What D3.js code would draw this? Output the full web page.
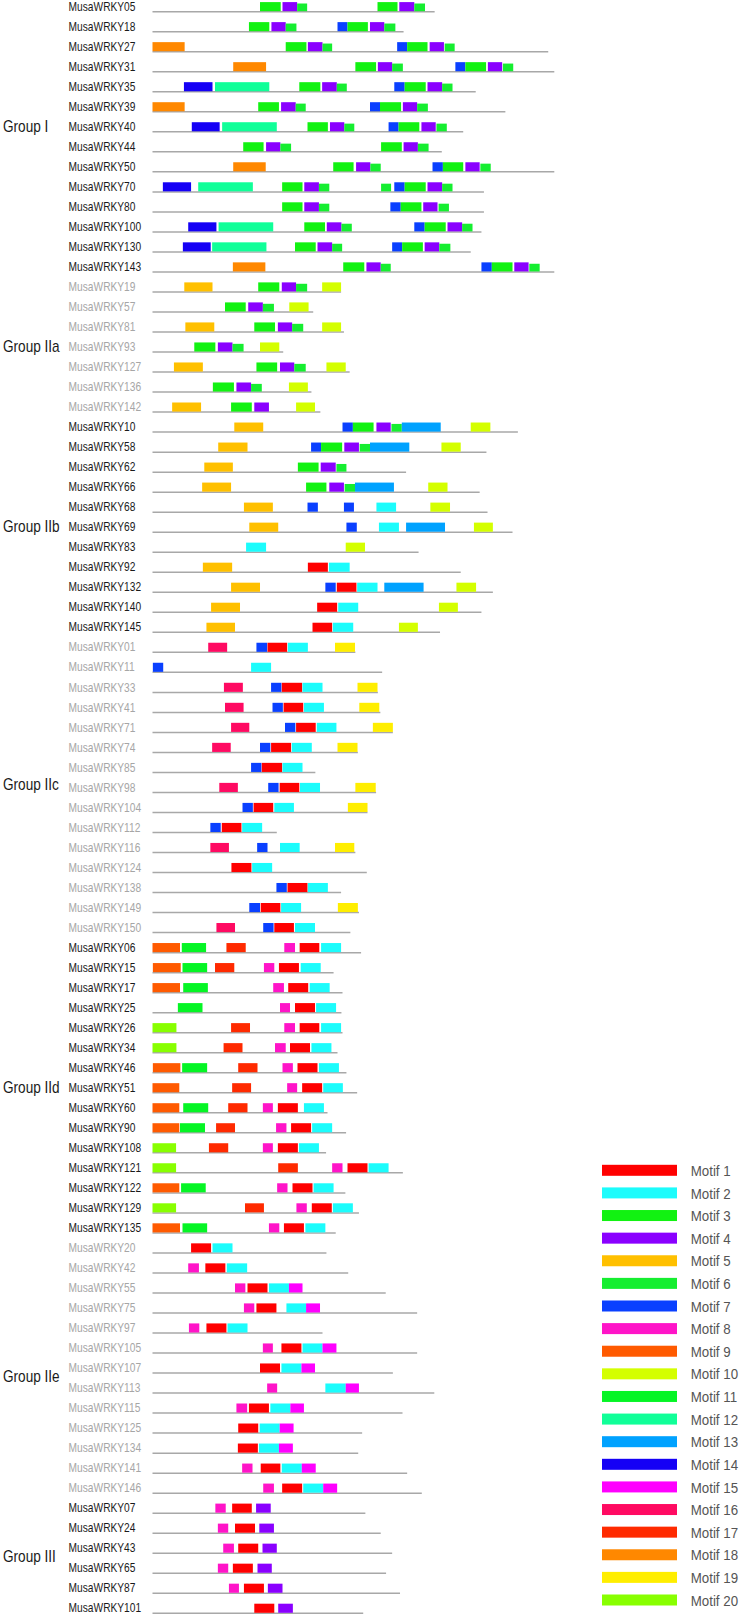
<!DOCTYPE html>
<html><head><meta charset="utf-8">
<script src="https://cdn.jsdelivr.net/npm/d3@7"></script>
<style>html,body{margin:0;padding:0;background:#fff;}svg{display:block;}</style>
</head><body>
<script>
// ---------- DATA ----------
const groupNames = ["Group I","Group IIa","Group IIb","Group IIc","Group IId","Group IIe","Group III"];
const groupSizes = [14,7,11,15,15,13,6];
const geneNames = [
"MusaWRKY05","MusaWRKY18","MusaWRKY27","MusaWRKY31","MusaWRKY35","MusaWRKY39","MusaWRKY40","MusaWRKY44","MusaWRKY50","MusaWRKY70","MusaWRKY80","MusaWRKY100","MusaWRKY130","MusaWRKY143",
"MusaWRKY19","MusaWRKY57","MusaWRKY81","MusaWRKY93","MusaWRKY127","MusaWRKY136","MusaWRKY142",
"MusaWRKY10","MusaWRKY58","MusaWRKY62","MusaWRKY66","MusaWRKY68","MusaWRKY69","MusaWRKY83","MusaWRKY92","MusaWRKY132","MusaWRKY140","MusaWRKY145",
"MusaWRKY01","MusaWRKY11","MusaWRKY33","MusaWRKY41","MusaWRKY71","MusaWRKY74","MusaWRKY85","MusaWRKY98","MusaWRKY104","MusaWRKY112","MusaWRKY116","MusaWRKY124","MusaWRKY138","MusaWRKY149","MusaWRKY150",
"MusaWRKY06","MusaWRKY15","MusaWRKY17","MusaWRKY25","MusaWRKY26","MusaWRKY34","MusaWRKY46","MusaWRKY51","MusaWRKY60","MusaWRKY90","MusaWRKY108","MusaWRKY121","MusaWRKY122","MusaWRKY129","MusaWRKY135",
"MusaWRKY20","MusaWRKY42","MusaWRKY55","MusaWRKY75","MusaWRKY97","MusaWRKY105","MusaWRKY107","MusaWRKY113","MusaWRKY115","MusaWRKY125","MusaWRKY134","MusaWRKY141","MusaWRKY146",
"MusaWRKY07","MusaWRKY24","MusaWRKY43","MusaWRKY65","MusaWRKY87","MusaWRKY101"];
const proteinLengths = [
790,703,1108,1125,905,988,870,810,1125,928,928,921,891,1125,
528,450,536,366,552,445,470,
1023,935,710,916,938,1008,745,863,953,921,805,
568,643,631,638,673,575,456,626,602,348,568,600,528,578,554,
584,507,532,529,532,518,543,573,490,542,486,701,540,578,513,
487,548,653,741,476,741,673,789,700,587,576,713,754,
596,639,671,654,693,590];
// [motif, start, end]
const motifSites = [
[[3,301,359],[4,364,405],[6,405,433],[3,630,686],[4,691,733],[6,733,763]],
[[3,270,327],[4,333,373],[6,373,403],[7,518,546],[3,546,603],[4,609,649],[6,649,680]],
[[18,0,90],[3,373,431],[4,435,476],[6,476,503],[7,685,713],[3,713,770],[4,776,816],[6,818,846]],
[[18,226,318],[3,568,626],[4,631,671],[6,671,701],[7,848,876],[3,876,934],[4,939,979],[6,981,1010]],
[[14,88,168],[12,175,327],[3,411,470],[4,475,516],[6,516,544],[7,677,706],[3,706,765],[4,770,811],[6,811,840]],
[[18,0,90],[3,296,354],[4,360,401],[6,401,429],[7,609,637],[3,637,696],[4,701,741],[6,741,771]],
[[14,110,188],[12,195,348],[3,434,491],[4,497,537],[6,537,565],[7,661,689],[3,689,747],[4,753,793],[6,795,824]],
[[3,254,311],[4,318,358],[6,358,388],[3,640,698],[4,703,743],[6,743,773]],
[[18,226,317],[3,506,563],[4,570,610],[6,610,639],[7,784,813],[3,813,870],[4,876,916],[6,918,947]],
[[14,29,108],[12,128,281],[3,363,420],[4,425,466],[6,466,495],[6,640,668],[7,677,706],[3,706,765],[4,770,811],[6,811,840]],
[[3,363,420],[4,425,466],[6,466,495],[7,666,695],[3,695,753],[4,758,798],[6,801,830]],
[[14,100,179],[12,185,338],[3,425,483],[4,488,529],[6,529,558],[7,733,762],[3,762,821],[4,826,867],[6,867,896]],
[[14,85,163],[12,167,319],[3,399,457],[4,462,503],[6,503,531],[7,671,699],[3,699,757],[4,762,803],[6,803,834]],
[[18,225,316],[3,534,593],[4,599,639],[6,639,667],[7,921,950],[3,950,1008],[4,1013,1053],[6,1055,1084]],
[[5,89,168],[3,296,355],[4,362,402],[6,402,433],[10,475,528]],
[[3,203,261],[4,268,309],[6,309,340],[10,383,437]],
[[5,92,173],[3,285,343],[4,351,391],[6,391,422],[10,475,528]],
[[3,117,176],[4,183,224],[6,224,255],[10,301,355]],
[[5,60,141],[3,291,349],[4,357,397],[6,397,429],[10,487,541]],
[[3,169,228],[4,235,276],[6,276,306],[10,382,435]],
[[5,55,136],[3,220,278],[4,285,326],[10,402,455]],
[[5,229,310],[7,532,561],[3,561,619],[4,627,667],[6,669,698],[13,698,807],[10,891,946]],
[[5,184,266],[7,444,472],[3,472,531],[4,537,578],[6,580,609],[13,609,719],[10,809,863]],
[[5,145,225],[3,407,465],[4,471,513],[6,515,543]],
[[5,139,220],[3,430,487],[4,495,536],[6,538,567],[13,567,676],[10,772,826]],
[[5,256,337],[7,434,463],[7,536,564],[2,627,682],[10,778,833]],
[[5,271,352],[7,543,572],[2,634,690],[13,710,819],[10,900,953]],
[[2,262,318],[10,541,595]],
[[5,141,223],[1,435,491],[2,494,552]],
[[5,220,301],[7,484,513],[1,516,571],[2,573,630],[13,649,759],[10,851,906]],
[[5,164,245],[1,461,517],[2,520,576],[10,802,855]],
[[5,151,231],[1,448,503],[2,505,562],[10,690,743]],
[[16,156,209],[7,291,321],[1,322,377],[2,379,435],[19,511,567]],
[[7,1,30],[2,276,332]],
[[16,200,253],[7,332,361],[1,362,419],[2,420,476],[19,574,630]],
[[16,203,255],[7,336,365],[1,367,422],[2,424,480],[19,579,635]],
[[16,220,271],[7,371,400],[1,402,457],[2,460,515],[19,617,673]],
[[16,167,219],[7,301,330],[1,332,388],[2,390,446],[19,518,574]],
[[7,276,305],[1,306,363],[2,364,420]],
[[16,187,239],[7,324,353],[1,356,411],[2,413,469],[19,568,625]],
[[7,252,281],[1,283,338],[2,341,396],[19,547,602]],
[[7,162,191],[1,194,249],[2,251,307]],
[[16,162,214],[7,293,322],[2,357,412],[19,511,565]],
[[1,221,277],[2,279,335]],
[[7,347,376],[1,378,434],[2,435,491]],
[[7,271,301],[1,303,358],[2,360,416],[19,519,575]],
[[16,179,231],[7,310,339],[1,341,396],[2,399,455]],
[[9,0,77],[11,82,150],[17,207,261],[8,369,399],[1,412,467],[2,472,528]],
[[9,1,79],[11,84,153],[17,175,229],[8,312,341],[1,354,410],[2,415,471]],
[[9,0,77],[11,86,155],[8,338,368],[1,380,436],[2,440,496]],
[[11,71,140],[8,357,385],[1,399,455],[2,458,514]],
[[20,0,67],[17,220,273],[8,369,399],[1,412,467],[2,472,528]],
[[20,0,67],[17,199,252],[8,343,373],[1,385,441],[2,445,501]],
[[9,1,78],[11,83,153],[17,240,294],[8,364,393],[1,406,462],[2,466,522]],
[[9,0,75],[17,223,276],[8,377,405],[1,419,475],[2,478,533]],
[[9,0,75],[11,86,156],[17,212,266],[8,309,337],[1,351,407],[2,424,480]],
[[9,0,75],[11,77,147],[17,178,231],[8,346,375],[1,388,444],[2,447,503]],
[[20,0,66],[17,158,212],[8,309,337],[1,351,407],[2,410,466]],
[[20,0,66],[17,352,407],[8,503,532],[1,546,602],[2,605,661]],
[[9,0,75],[11,80,149],[8,349,378],[1,392,448],[2,451,507]],
[[20,0,66],[17,259,312],[8,403,432],[1,446,502],[2,505,561]],
[[9,0,77],[11,84,153],[8,326,355],[1,368,424],[2,428,484]],
[[1,108,164],[2,168,224]],
[[8,100,130],[1,148,204],[2,208,265]],
[[8,231,260],[1,266,322],[2,326,382],[15,382,420]],
[[8,256,285],[1,291,347],[2,375,430],[15,430,469]],
[[8,102,131],[1,151,207],[2,210,266]],
[[8,309,337],[1,361,417],[2,420,476],[15,476,515]],
[[1,301,357],[2,361,417],[15,417,455]],
[[8,321,349],[2,484,541],[15,541,578]],
[[8,235,265],[1,270,326],[2,330,386],[15,386,424]],
[[1,240,296],[2,300,356],[15,356,395]],
[[1,239,295],[2,298,354],[15,354,393]],
[[8,251,280],[1,303,358],[2,362,418],[15,418,457]],
[[8,310,340],[1,363,419],[2,422,478],[15,478,517]],
[[8,176,205],[1,223,278],[4,290,331]],
[[8,183,212],[1,231,287],[4,299,340]],
[[8,198,228],[1,240,296],[4,308,348]],
[[8,183,212],[1,225,281],[4,294,334]],
[[8,214,242],[1,256,312],[4,323,364]],
[[1,285,341],[4,352,393]]];
const motifNames = ["Motif 1","Motif 2","Motif 3","Motif 4","Motif 5","Motif 6","Motif 7","Motif 8","Motif 9","Motif 10",
"Motif 11","Motif 12","Motif 13","Motif 14","Motif 15","Motif 16","Motif 17","Motif 18","Motif 19","Motif 20"];

// ---------- STYLE ----------
const motifColors = ["#ff0000","#1cfcfc","#12f212","#8a00ff","#ffc000","#15ee30","#0a40ff","#ff14c8","#ff5a00","#d4ff00",
"#05f525","#10ff98","#00a2ff","#1500f5","#ff00ff","#ff0a62","#ff2a00","#ff8800","#ffee00","#88ff00"];
// small hand-placement nudges of the group captions (in rows, relative to the block centre)
const groupLabelNudge = [-0.5, 0, 0, -0.13, 0, 0.42, -0.08];
const W = 740, H = 1617;
const svg = d3.select("body").append("svg").attr("width", W).attr("height", H);

const x = d3.scaleLinear().domain([0, 1125]).range([152.5, 554.3]);
const y = d3.scaleLinear().domain([0, geneNames.length - 1]).range([11.7, 1613.3]); // row baseline
const color = d3.scaleOrdinal().domain(d3.range(1,21)).range(motifColors);

// group index per row
const groupOf = [];
groupSizes.forEach((n, g) => { for (let k = 0; k < n; k++) groupOf.push(g); });
const labelColor = g => (g % 2 === 1 ? "#a6a6a6" : "#1a1a1a");

const font = "'Liberation Sans', Arial, sans-serif";

// rows
const rows = svg.append("g").selectAll("g.row").data(geneNames).join("g").attr("class","row");
rows.append("line")
  .attr("x1", x(0)).attr("x2", (d,i) => x(proteinLengths[i]))
  .attr("y1", (d,i) => y(i)).attr("y2", (d,i) => y(i))
  .attr("stroke", "#a8a8a8").attr("stroke-width", 1.5);
rows.selectAll("rect").data((d,i) => motifSites[i].map(s => ({m:s[0], s:s[1], e:s[2], i}))).join("rect")
  .attr("x", d => x(d.s)).attr("width", d => x(d.e) - x(d.s))
  .attr("y", d => y(d.i) - (d.m === 6 ? 8.2 : 9.6))
  .attr("height", d => (d.m === 6 ? 7.7 : 9.1))
  .attr("fill", d => color(d.m));
rows.append("text")
  .attr("transform", (d,i) => `translate(68.6,${y(i) - 5.2}) scale(0.85,1)`)
  .attr("dy", "0.36em")
  .attr("font-family", font).attr("font-size", 12)
  .attr("fill", (d,i) => labelColor(groupOf[i]))
  .text(d => d);

// group labels (vertically centred on their block of rows)
let start = 0;
const groupMid = groupSizes.map((n, g) => { const m = start + (n - 1) / 2 + groupLabelNudge[g]; start += n; return m; });
svg.append("g").selectAll("text").data(groupNames).join("text")
  .attr("transform", (d,g) => `translate(3,${y(groupMid[g]) - 5.5}) scale(0.85,1)`)
  .attr("dy", "0.36em")
  .attr("font-family", font).attr("font-size", 16).attr("fill", "#1a1a1a")
  .text(d => d);

// legend
const ly = d3.scaleLinear().domain([0, 19]).range([1170.3, 1600]);
const leg = svg.append("g").selectAll("g").data(motifNames).join("g");
leg.append("rect").attr("x", 602).attr("width", 75).attr("y", (d,i) => ly(i) - 5.5).attr("height", 11)
  .attr("fill", (d,i) => motifColors[i]);
leg.append("text")
  .attr("transform", (d,i) => `translate(690.7,${ly(i)}) scale(0.86,1)`)
  .attr("dy", "0.36em")
  .attr("font-family", font).attr("font-size", 15.5).attr("fill", "#555")
  .text(d => d);
</script>
</body></html>
